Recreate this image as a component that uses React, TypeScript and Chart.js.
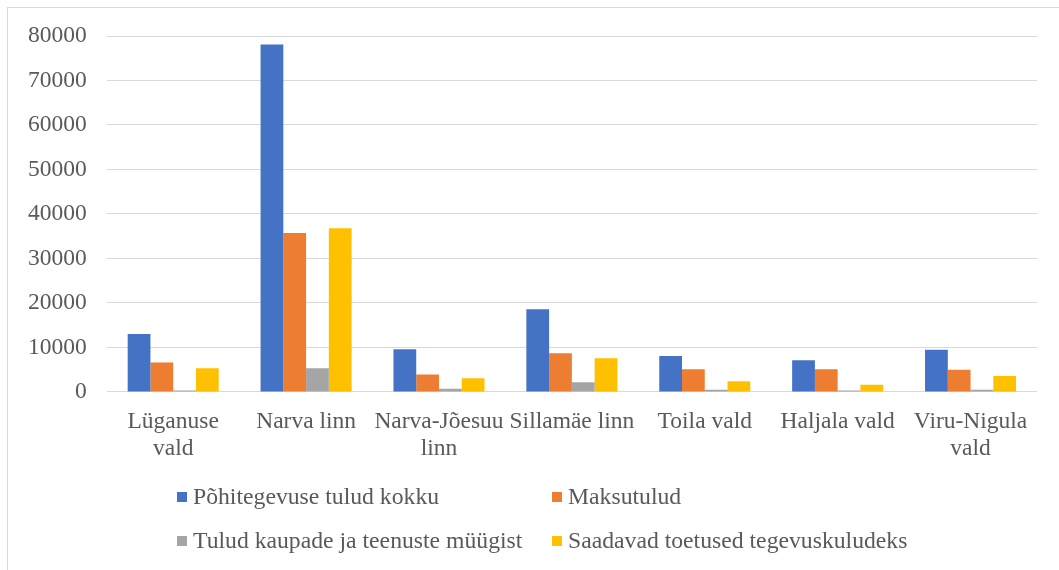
import React, { useEffect, useRef } from "react";
import { Chart, registerables } from "chart.js";

Chart.register(...registerables);

const categories: (string | string[])[] = [
  ["Lüganuse", "vald"],
  "Narva linn",
  ["Narva-Jõesuu", "linn"],
  "Sillamäe linn",
  "Toila vald",
  "Haljala vald",
  ["Viru-Nigula", "vald"],
];

const seriesNames = [
  "Põhitegevuse tulud kokku",
  "Maksutulud",
  "Tulud kaupade ja teenuste müügist",
  "Saadavad toetused tegevuskuludeks",
];

const pohitegevuseTulud = [13000, 78100, 9600, 18600, 8100, 7100, 9500];
const maksutulud = [6600, 35700, 3900, 8700, 5100, 5100, 5000];
const tuludMyygist = [300, 5300, 700, 2200, 500, 300, 500];
const toetused = [5300, 36800, 3100, 7600, 2400, 1600, 3600];

const yTicks = [0, 10000, 20000, 30000, 40000, 50000, 60000, 70000, 80000];

const colors = ["#4472C4", "#ED7D31", "#A5A5A5", "#FFC000"];

const FONT = '"Liberation Serif", "Times New Roman", serif';

const gridLegend = {
  id: "gridLegend",
  afterDraw(chart: any) {
    const ctx = chart.ctx;
    const cols = [169, 544];
    const rows = [489, 533];
    ctx.save();
    ctx.font = `23.7px ${FONT}`;
    ctx.textBaseline = "middle";
    ctx.textAlign = "left";
    chart.data.datasets.forEach((ds: any, i: number) => {
      const x = cols[i % 2];
      const y = rows[Math.floor(i / 2)];
      ctx.fillStyle = ds.backgroundColor;
      ctx.fillRect(x, y - 5, 10, 10);
      ctx.fillStyle = "#595959";
      ctx.fillText(ds.label, x + 16, y + 1);
    });
    ctx.restore();
  },
};

export default function App() {
  const ref = useRef<HTMLCanvasElement>(null);

  useEffect(() => {
    if (!ref.current) return;
    let chart: any = null;
    let cancelled = false;
    const build = () => {
      if (cancelled || !ref.current) return;
      const data = [pohitegevuseTulud, maksutulud, tuludMyygist, toetused];
      chart = new Chart(ref.current, {
        type: "bar",
        data: {
          labels: categories,
          datasets: seriesNames.map((name, i) => ({
            label: name,
            data: data[i],
            backgroundColor: colors[i],
            borderWidth: 0,
            categoryPercentage: 0.685,
            barPercentage: 1,
          })),
        },
        options: {
          responsive: false,
          animation: false,
          layout: { padding: { top: 0, right: 22, bottom: 100, left: 0 } },
          plugins: {
            legend: { display: false },
            tooltip: { enabled: false },
          },
          scales: {
            x: {
              grid: { display: false },
              border: { display: false },
              ticks: {
                color: "#595959",
                font: { family: FONT, size: 23.5, lineHeight: 1.15 },
                padding: 8,
                maxRotation: 0,
                autoSkip: false,
              },
            },
            y: {
              min: 0,
              max: 80000,
              afterBuildTicks: (axis: any) => {
                axis.ticks = yTicks.map((v) => ({ value: v }));
              },
              afterFit: (axis: any) => {
                axis.paddingTop = 28;
              },
              grid: { color: "#d9d9d9", lineWidth: 1, drawTicks: false },
              border: { display: false },
              ticks: {
                color: "#595959",
                font: { family: FONT, size: 23.5 },
                padding: 20,
                callback: (v: any) => String(v),
              },
            },
          },
        },
        plugins: [gridLegend],
      });
    };
    const fonts: any = (document as any).fonts;
    if (fonts && fonts.load) {
      Promise.all([
        fonts.load('23.5px "Liberation Serif"'),
        fonts.load('23.5px "Liberation Serif"', "Põhitegevuse Jõesuu"),
      ])
        .catch(() => null)
        .then(build);
    } else {
      build();
    }
    return () => {
      cancelled = true;
      if (chart) chart.destroy();
    };
  }, []);

  return (
    <div
      style={{
        position: "absolute",
        left: 7,
        top: 7,
        width: 1100,
        height: 600,
        borderLeft: "1px solid #d9d9d9",
        borderTop: "1px solid #d9d9d9",
        background: "#fff",
        fontFamily: FONT,
      }}
    >
      <canvas ref={ref} width={1051} height={562} style={{ display: "block" }} />
    </div>
  );
}
